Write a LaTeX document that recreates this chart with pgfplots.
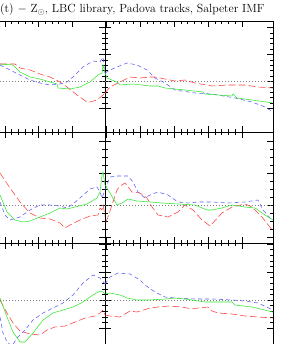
\documentclass[border=0pt]{standalone}
\usepackage{pgfplots}
\pgfplotsset{compat=1.18}
\definecolor{cred}{RGB}{255,60,60}
\definecolor{cblue}{RGB}{90,90,250}
\definecolor{cgreen}{RGB}{50,230,50}
\pgfplotsset{
  panel/.style={scale only axis, width=168pt, y dir=reverse,
    axis line style={black,line width=0.6pt},
    xticklabels={,,,,,,,,}, yticklabels={,,,,,,,,}, tick align=inside,
    major tick length=6pt, minor tick length=3pt,
    every tick/.style={black,line width=0.5pt},
    clip=true},
  leftp/.style={panel, xmin=-63, xmax=105, xtick={5,38.5,72}, minor x tick num=4},
  rightp/.style={panel, xmin=105, xmax=273, xtick={106,140,174,208,242}, minor x tick num=4},
  row1/.style={height=111pt, ymin=21, ymax=132, ytick={27.5,54.5,81.5,108.5}, minor y tick num=4},
  row2/.style={height=111pt, ymin=132, ymax=243, ytick={141,173,205,237}, minor y tick num=3},
  row3/.style={height=111pt, ymin=243, ymax=354, ytick={244,272,300,328}, minor y tick num=4},
  rd/.style={cred, line width=0.55pt, dash pattern=on 7pt off 3pt},
  bl/.style={cblue, line width=0.55pt, dash pattern=on 4pt off 3pt},
  gr/.style={cgreen, line width=0.55pt},
  zl/.style={gray, line width=0.5pt, dash pattern=on 1pt off 2pt},
}
\begin{document}
\begin{tikzpicture}
\path[use as bounding box] (0pt,0pt) rectangle (295pt,-344pt);
\node[anchor=base west, inner sep=0pt, font=\fontsize{11.8}{13}\selectfont] at (0pt,-13pt) {(t) $-$ Z$_\odot$, LBC library, Padova tracks, Salpeter IMF};
% Row 1 left
\begin{axis}[leftp, row1, at={(-63pt,-21pt)}, anchor=north west]
\addplot[zl] coordinates {(-63,81.5) (105,81.5)};
\addplot[rd] coordinates {(0,64) (15,64) (20,68) (30,70) (40,74) (50,77) (60,82) (67,87) (77,95) (87,102) (90,102) (97,100) (103,95) (105,93)};
\addplot[bl] coordinates {(0,65) (10,70) (20,75) (30,80) (40,83) (50,85) (60,84) (67,82) (73,77) (83,67) (93,61) (100,62) (103,57) (104,67) (105,73)};
\addplot[gr] coordinates {(0,64) (13,65) (20,72) (30,77) (40,79) (50,82) (57,84) (58,88) (70,89) (80,87) (90,82) (98,75) (102,73) (103,65) (105,73)};
\end{axis}
% Row 1 right
\begin{axis}[rightp, row1, at={(105pt,-21pt)}, anchor=north west]
\addplot[zl] coordinates {(105,81.5) (273,81.5)};
\addplot[rd] coordinates {(105,93) (110,87) (120,82) (130,77) (140,78) (150,77) (155,77) (175,81) (185,80) (195,83) (212,86) (228,85) (245,85) (258,87) (273,88)};
\addplot[bl] coordinates {(105,73) (110,70) (117,67) (127,63) (137,65) (147,70) (155,78) (165,83) (175,90) (195,93) (212,94) (235,98) (252,102) (265,107) (273,112)};
\addplot[gr] coordinates {(105,73) (107,78) (117,82) (120,85) (133,84) (150,86) (158,86) (165,88) (185,90) (203,92) (205,94) (232,96) (233,94) (237,98) (252,100) (273,103)};
\end{axis}
% Row 2 left
\begin{axis}[leftp, row2, at={(-63pt,-132pt)}, anchor=north west]
\addplot[zl] coordinates {(-63,205) (105,205)};
\addplot[rd] coordinates {(0,173) (10,188) (20,202) (30,213) (40,218) (50,219) (60,223) (65,228) (70,225) (80,220) (90,216) (98,215) (100,208) (102,210) (103,205) (105,215) (106,222)};
\addplot[bl] coordinates {(0,202) (5,215) (10,220) (20,217) (30,210) (40,205) (50,205) (60,206) (67,208) (73,204) (80,198) (90,189) (97,187) (100,192) (102,198) (105,190)};
\addplot[gr] coordinates {(0,195) (7,212) (15,220) (23,222) (30,221) (40,217) (50,213) (60,208) (67,209) (75,207) (87,204) (97,198) (100,192) (102,175) (103,172) (105,185)};
\end{axis}
% Row 2 right
\begin{axis}[rightp, row2, at={(105pt,-132pt)}, anchor=north west]
\addplot[zl] coordinates {(105,205) (273,205)};
\addplot[rd] coordinates {(106,222) (108,217) (113,202) (117,190) (120,186) (125,183) (132,192) (140,193) (147,198) (152,207) (158,215) (168,217) (178,212) (185,205) (193,210) (202,220) (210,226) (222,213) (232,207) (245,204) (252,207) (262,217) (273,231)};
\addplot[bl] coordinates {(105,190) (110,177) (117,176) (128,176) (133,182) (138,192) (145,198) (150,195) (158,192) (168,195) (178,202) (188,203) (198,202) (212,202) (228,203) (245,202) (258,200) (263,210) (270,218) (273,220)};
\addplot[gr] coordinates {(105,185) (110,193) (117,205) (122,203) (128,199) (137,201) (150,202) (162,203) (178,204) (195,205) (207,210) (212,210) (222,208) (232,205) (245,207) (255,208) (265,215) (273,220)};
\end{axis}
% Row 3 left
\begin{axis}[leftp, row3, at={(-63pt,-243pt)}, anchor=north west]
\addplot[zl] coordinates {(-63,300) (105,300)};
\addplot[rd] coordinates {(0,300) (7,313) (13,323) (20,331) (30,334) (40,335) (47,330) (55,327) (65,326) (75,322) (85,318) (95,316) (100,313) (103,310) (105,315)};
\addplot[bl] coordinates {(0,317) (3,333) (7,342) (12,346) (17,338) (25,330) (33,320) (43,313) (53,308) (63,303) (73,295) (83,283) (93,275) (100,278) (105,284)};
\addplot[gr] coordinates {(0,298) (7,317) (13,332) (20,342) (25,342) (33,333) (43,320) (53,313) (63,310) (73,307) (83,302) (93,295) (100,291) (103,292) (105,294)};
\end{axis}
% Row 3 right
\begin{axis}[rightp, row3, at={(105pt,-243pt)}, anchor=north west]
\addplot[zl] coordinates {(105,300) (273,300)};
\addplot[rd] coordinates {(105,315) (110,316) (120,317) (130,311) (137,312) (150,308) (158,307) (168,306) (182,307) (192,309) (198,308) (208,307) (212,311) (218,313) (232,314) (245,316) (258,317) (273,318)};
\addplot[bl] coordinates {(105,284) (110,277) (118,273) (130,274) (140,280) (145,285) (155,292) (165,297) (175,298) (195,299) (212,299) (232,300) (245,301) (258,303) (273,310)};
\addplot[gr] coordinates {(105,294) (110,293) (120,295) (127,298) (137,300) (150,300) (165,299) (175,298) (185,299) (205,302) (232,302) (235,305) (252,307) (273,312)};
\end{axis}
\end{tikzpicture}
\end{document}
